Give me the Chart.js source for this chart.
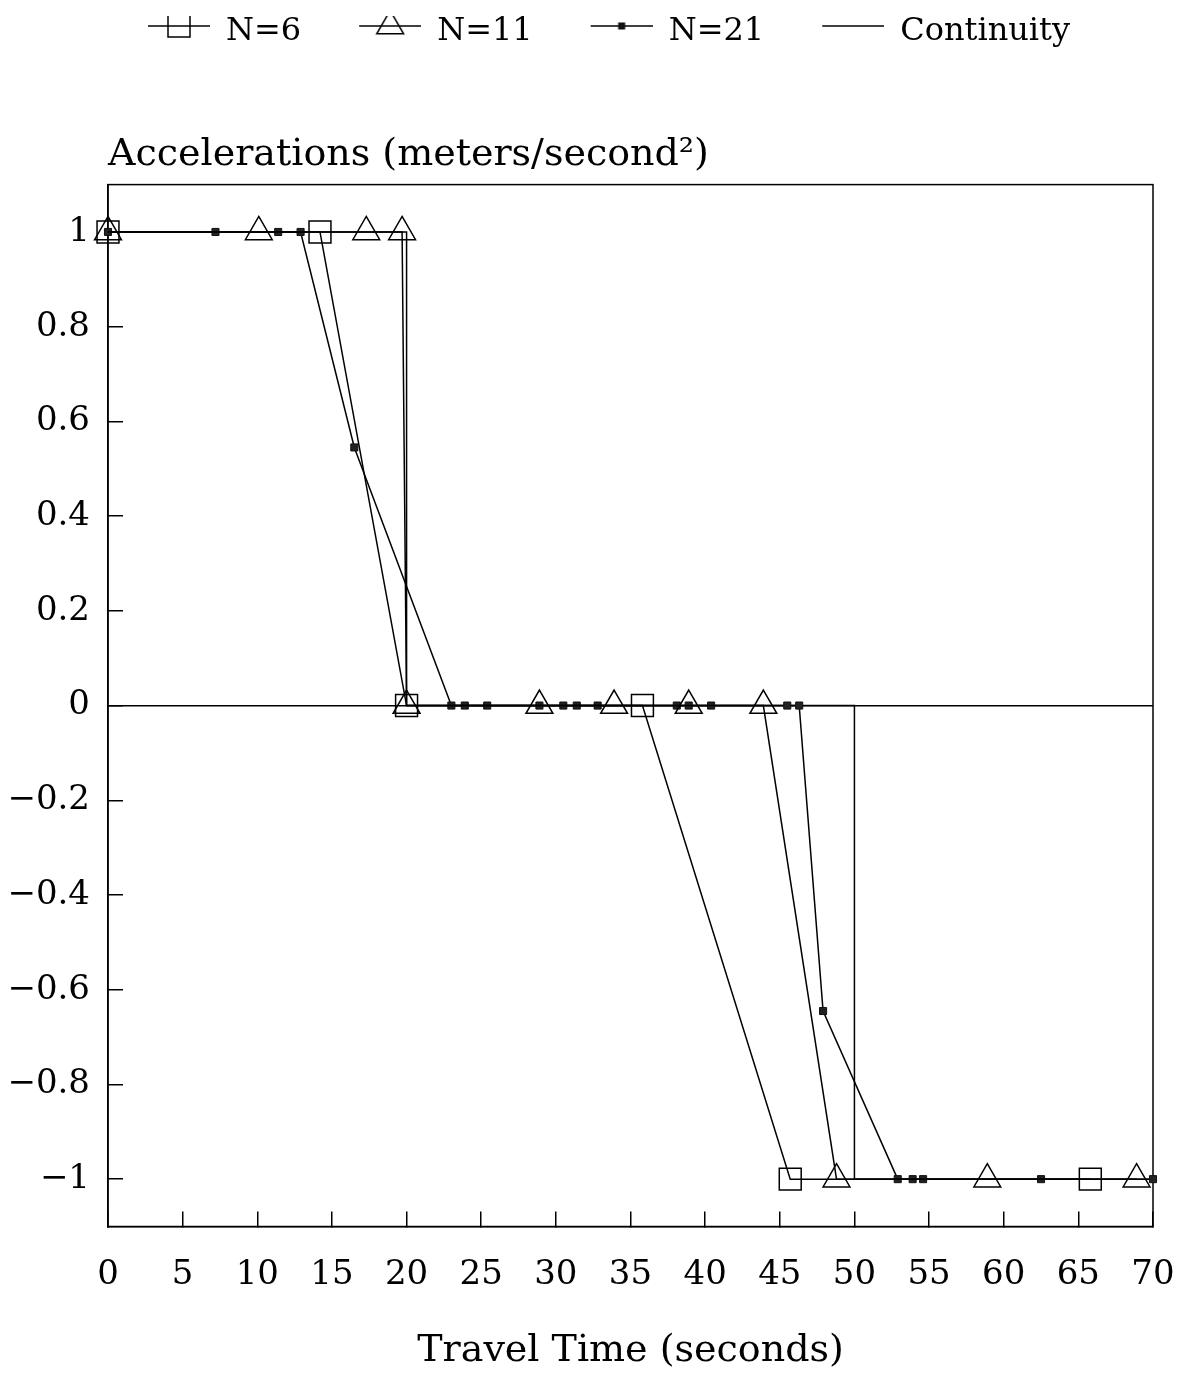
<!DOCTYPE html>
<html>
<head>
<meta charset="utf-8">
<script src="https://cdn.jsdelivr.net/npm/chart.js@4/dist/chart.umd.min.js"></script>
<style>
  html, body { margin: 0; padding: 0; background: #fff; }
  canvas { display: block; }
</style>
</head>
<body>
<canvas id="accelChart" width="1181" height="1373"></canvas>
<script>
// values
const n6Time = [0, 14.2, 20.0, 35.8, 45.7, 65.8];
const n6Accel = [1, 1, 0, 0, -1, -1];

const n11Time = [0, 10.1, 17.3, 19.7, 20.0, 28.9, 33.9, 38.9, 43.9, 48.8, 58.9, 68.9];
const n11Accel = [1, 1, 1, 1, 0, 0, 0, 0, 0, -1, -1, -1];

const n21Time = [0, 7.2, 11.4, 12.9, 16.5, 23.0, 23.9, 25.4, 28.9, 30.5, 31.4, 32.8,
                 38.1, 38.9, 40.4, 45.5, 46.3, 47.9, 52.9, 53.9, 54.6, 62.5, 70];
const n21Accel = [1, 1, 1, 1, 0.545, 0, 0, 0, 0, 0, 0, 0,
                  0, 0, 0, 0, 0, -0.645, -1, -1, -1, -1, -1];

const contTime = [0, 20, 20, 50, 50, 70];
const contAccel = [1, 1, 0, 0, -1, -1];

const seriesNames = ['N=6', 'N=11', 'N=21', 'Continuity'];
const xTickValues = [0, 5, 10, 15, 20, 25, 30, 35, 40, 45, 50, 55, 60, 65, 70];
const yTickValues = [-1, -0.8, -0.6, -0.4, -0.2, 0, 0.2, 0.4, 0.6, 0.8, 1];
const yRange = [-1.1, 1.1];

const FONT = 'DejaVu Serif';
Chart.defaults.font.family = FONT;
Chart.defaults.color = '#000';

function toPoints(xs, ys) {
    return xs.map((x, i) => ({ x: x, y: ys[i] }));
}

// small line+marker pictures for the legend
function legendSample(kind) {
    const c = document.createElement('canvas');
    c.width = 120;
    c.height = 40;
    const g = c.getContext('2d');
    const cy = 14, x0 = 58, x1 = 120, cx = 89;
    g.strokeStyle = '#000';
    g.fillStyle = '#111';
    g.lineWidth = 1.5;
    g.beginPath();
    g.moveTo(x0, cy);
    g.lineTo(x1, cy);
    g.stroke();
    if (kind === 'square') {
        g.strokeRect(cx - 11, cy - 11, 22, 22);
    } else if (kind === 'triangle') {
        const r = 15.5;
        g.beginPath();
        g.moveTo(cx, cy - r);
        g.lineTo(cx + r * Math.sin(2 * Math.PI / 3), cy + r / 2);
        g.lineTo(cx - r * Math.sin(2 * Math.PI / 3), cy + r / 2);
        g.closePath();
        g.stroke();
    } else if (kind === 'dot') {
        g.fillRect(cx - 3.5, cy - 3.5, 7, 7);
    }
    return c;
}
const legendPics = [legendSample('square'), legendSample('triangle'), legendSample('dot'), legendSample('line')];

const framePlugin = {
    id: 'frame',
    beforeDatasetsDraw(chart) {
        const a = chart.chartArea;
        const ctx = chart.ctx;
        ctx.save();
        ctx.strokeStyle = '#000';
        ctx.lineWidth = 1.5;
        ctx.strokeRect(a.left, a.top, a.right - a.left, a.bottom - a.top);
        ctx.restore();
    }
};

const ctx = document.getElementById('accelChart').getContext('2d');

const accelChart = new Chart(ctx, {
    type: 'line',
    data: {
        datasets: [{
            label: seriesNames[0],
            data: toPoints(n6Time, n6Accel),
            borderColor: '#000',
            borderWidth: 1.5,
            pointStyle: 'rect',
            pointRadius: 15.5,
            pointBorderWidth: 1.5,
            pointBorderColor: '#000',
            pointBackgroundColor: 'rgba(0,0,0,0)',
            clip: false
        }, {
            label: seriesNames[1],
            data: toPoints(n11Time, n11Accel),
            borderColor: '#000',
            borderWidth: 1.5,
            pointStyle: 'triangle',
            pointRadius: 15.5,
            pointBorderWidth: 1.5,
            pointBorderColor: '#000',
            pointBackgroundColor: 'rgba(0,0,0,0)',
            clip: false
        }, {
            label: seriesNames[2],
            data: toPoints(n21Time, n21Accel),
            borderColor: '#000',
            borderWidth: 1.5,
            pointStyle: 'rect',
            pointRadius: 5,
            pointBorderWidth: 1,
            pointBorderColor: '#111',
            pointBackgroundColor: '#222',
            clip: false
        }, {
            label: seriesNames[3],
            data: toPoints(contTime, contAccel),
            borderColor: '#000',
            borderWidth: 1.5,
            pointRadius: 0,
            clip: false
        }]
    },
    options: {
        responsive: false,
        animation: false,
        events: [],
        layout: { padding: { top: 16, left: 7, right: 28, bottom: 3 } },
        elements: { line: { tension: 0 } },
        plugins: {
            tooltip: { enabled: false },
            legend: {
                position: 'top',
                weight: 3000,
                labels: {
                    usePointStyle: true,
                    pointStyleWidth: 120,
                    padding: 0,
                    color: '#000',
                    font: { family: FONT, size: 32 },
                    generateLabels: (chart) => chart.data.datasets.map((ds, i) => ({
                        text: ds.label,
                        pointStyle: legendPics[i],
                        fillStyle: 'rgba(0,0,0,0)',
                        strokeStyle: '#000',
                        lineWidth: 0,
                        fontColor: '#000',
                        hidden: false,
                        datasetIndex: i
                    }))
                }
            },
            title: {
                display: true,
                text: 'Accelerations (meters/second²)',
                position: 'top',
                fullSize: false,
                align: 'start',
                color: '#000',
                font: { family: FONT, size: 38, weight: 'normal', lineHeight: 1.2 },
                padding: { top: 74, bottom: 7 }
            }
        },
        scales: {
            x: {
                type: 'linear',
                position: 'bottom',
                min: xTickValues[0],
                max: xTickValues[xTickValues.length - 1],
                afterBuildTicks: (scale) => { scale.ticks = xTickValues.map(v => ({ value: v })); },
                afterFit: (scale) => { scale.height = 143.5; },
                border: { color: '#000', width: 1.5 },
                grid: {
                    drawOnChartArea: false,
                    tickLength: -15,
                    tickColor: '#000',
                    lineWidth: 1.5
                },
                ticks: {
                    maxRotation: 0,
                    autoSkip: false,
                    padding: 6,
                    color: '#000',
                    font: { family: FONT, size: 34, lineHeight: 3.41 }
                },
                title: {
                    display: true,
                    text: 'Travel Time (seconds)',
                    color: '#000',
                    font: { family: FONT, size: 38, lineHeight: 1.0 },
                    padding: { top: 0, bottom: 0 }
                }
            },
            y: {
                type: 'linear',
                position: 'left',
                min: yRange[0],
                max: yRange[1],
                afterBuildTicks: (scale) => { scale.ticks = yTickValues.map(v => ({ value: v })); },
                afterFit: (scale) => { scale.width = 101; },
                border: { color: '#000', width: 1.5 },
                grid: {
                    tickLength: -15,
                    tickColor: '#000',
                    lineWidth: 1.5,
                    color: (c) => (c.tick && Math.abs(c.tick.value) < 1e-9) ? '#000' : 'rgba(0,0,0,0)'
                },
                ticks: {
                    autoSkip: false,
                    padding: 33,
                    color: '#000',
                    font: { family: FONT, size: 34 },
                    callback: (v) => String(v).replace('-', '\u2212')
                }
            }
        }
    },
    plugins: [framePlugin]
});
</script>
</body>
</html>
